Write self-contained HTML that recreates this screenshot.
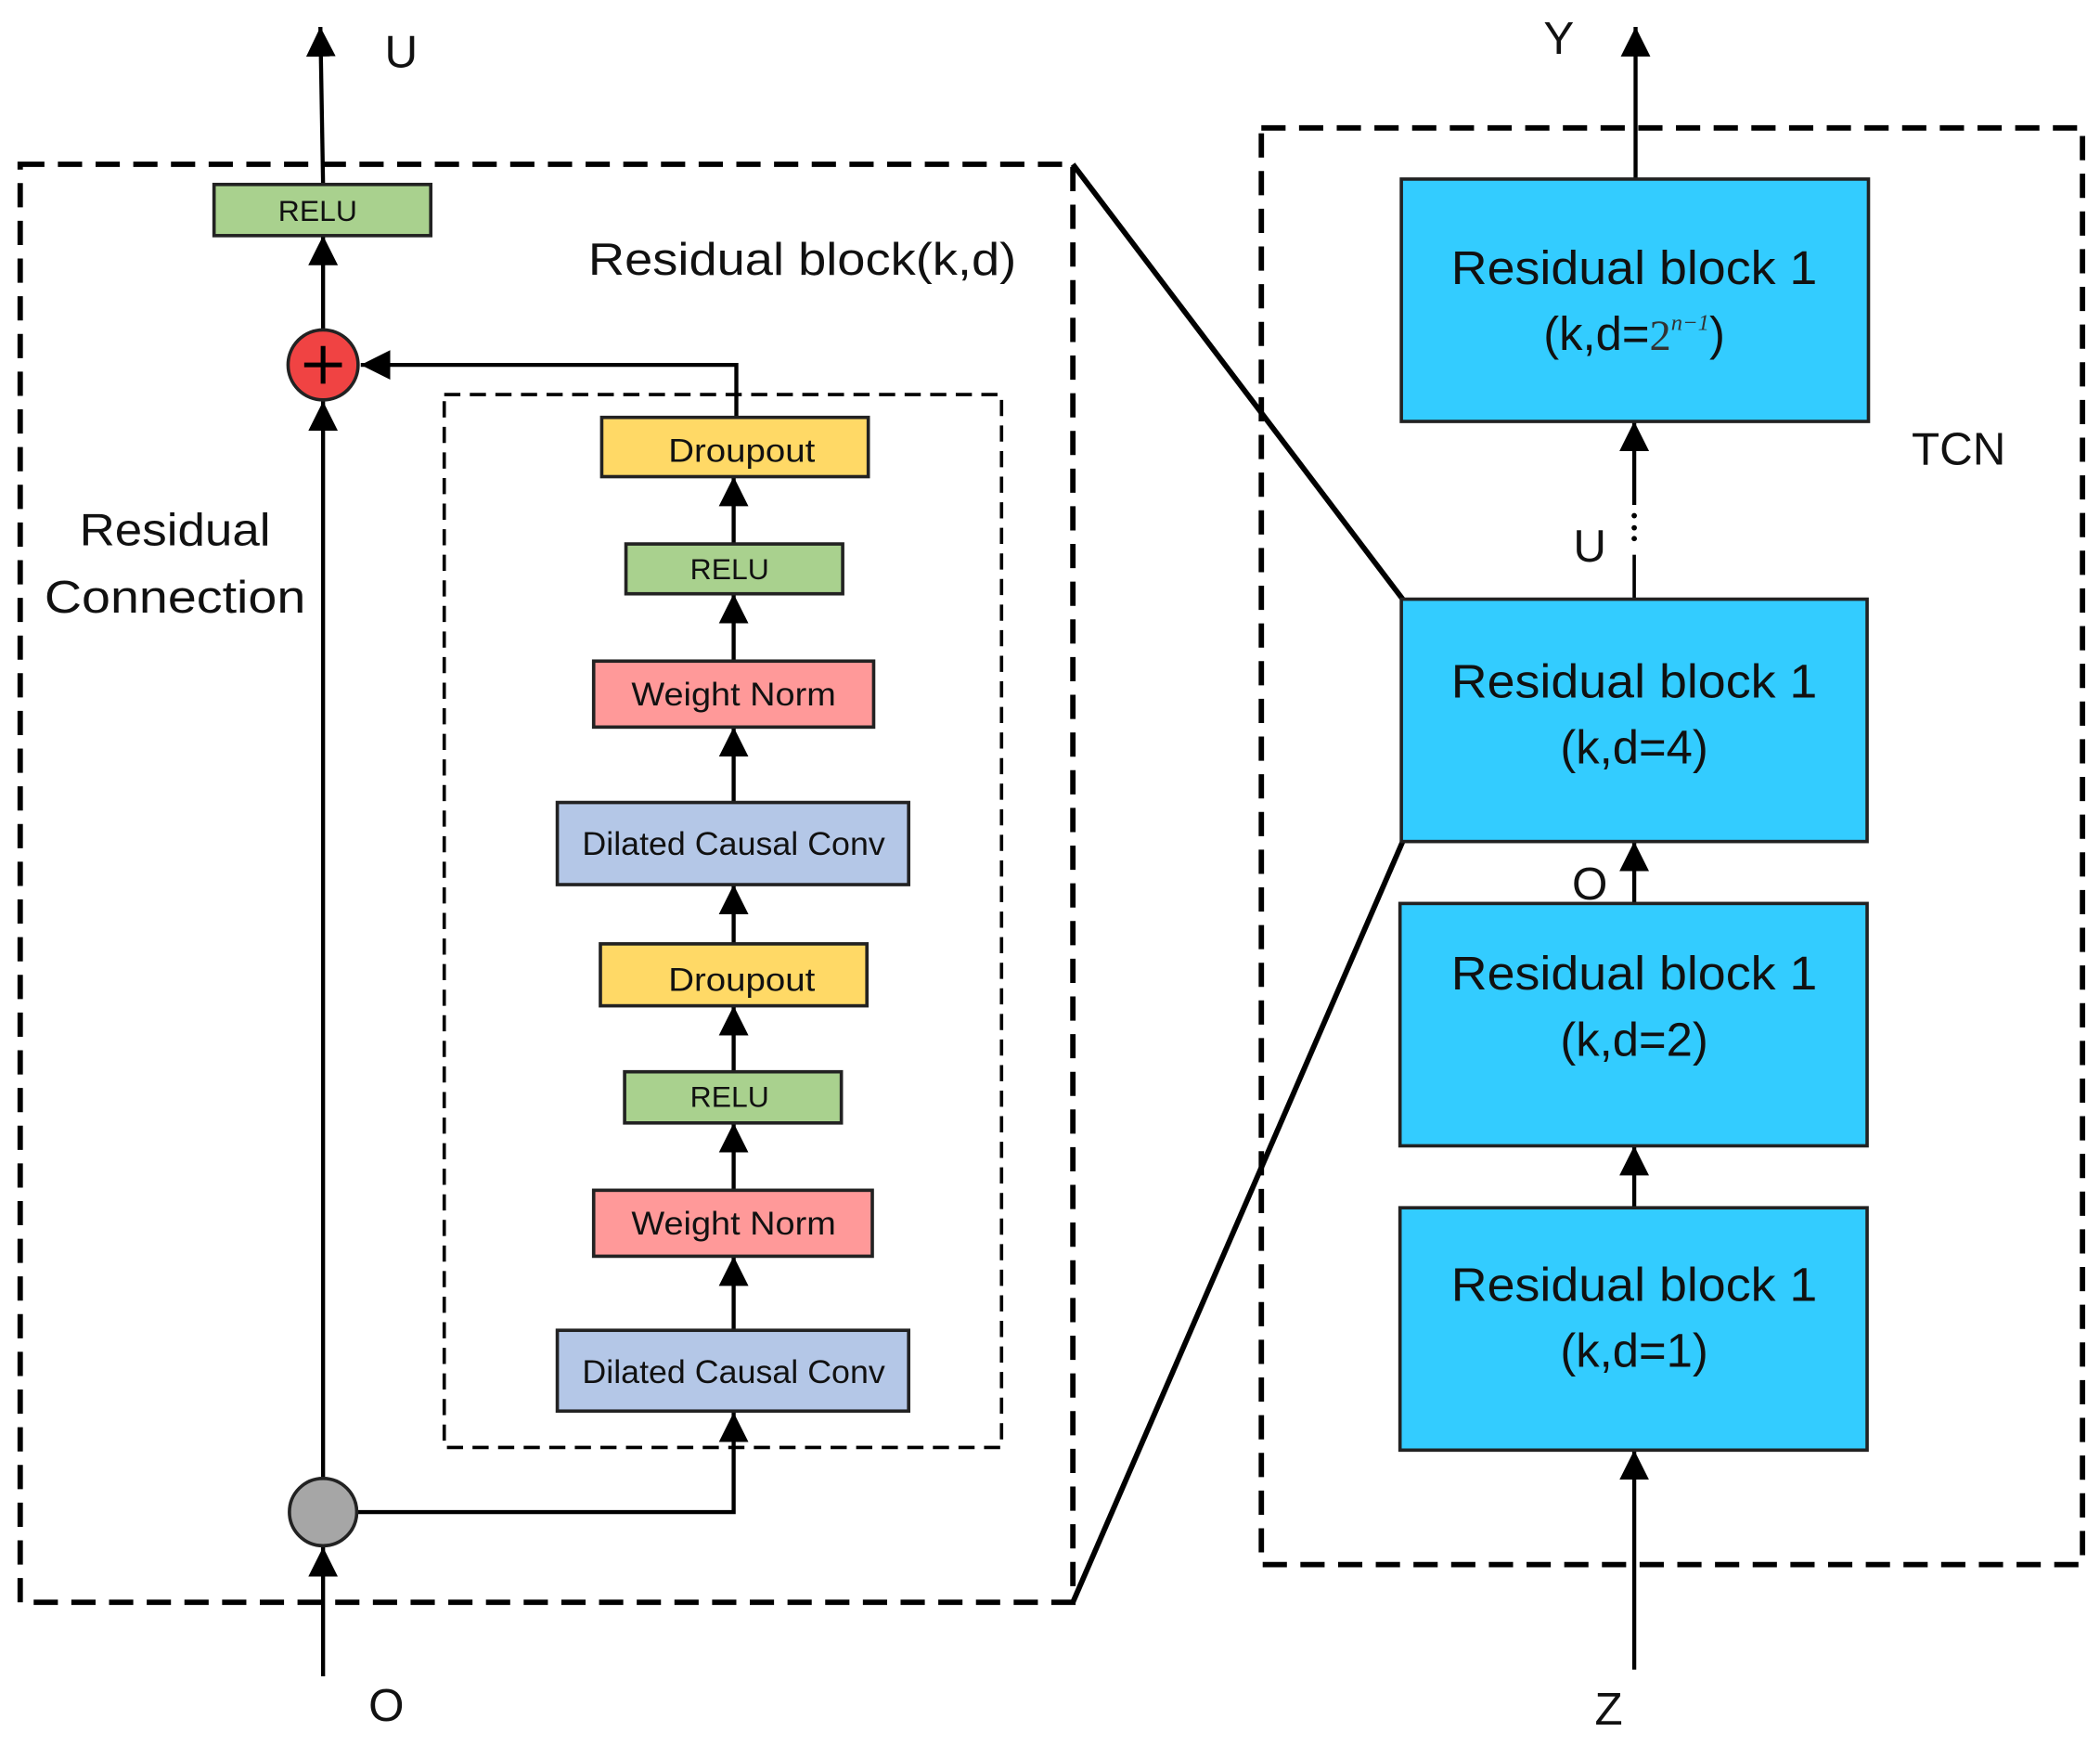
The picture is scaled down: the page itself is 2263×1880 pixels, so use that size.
<!DOCTYPE html>
<html><head><meta charset="utf-8"><style>
html,body{margin:0;padding:0;background:#fff;width:2263px;height:1880px;overflow:hidden}
svg{display:block}
text{font-family:"Liberation Sans",sans-serif;fill:#111}
</style></head><body>
<svg width="2263" height="1880" viewBox="0 0 1560 1296" preserveAspectRatio="none" xmlns="http://www.w3.org/2000/svg">
<defs>
<marker id="b" viewBox="0 0 10 10" refX="10" refY="5" markerWidth="22" markerHeight="22" markerUnits="userSpaceOnUse" orient="auto"><path d="M0,0L10,5L0,10z" fill="#000"/></marker>
</defs>
<g stroke="#000" fill="none">
<rect x="15" y="122" width="782" height="1068" stroke-width="4" stroke-dasharray="18,10"/>
<rect x="330" y="293" width="414" height="782" stroke-width="2.5" stroke-dasharray="12,7"/>
<rect x="937" y="95" width="610" height="1067" stroke-width="4" stroke-dasharray="18,10"/>
<line x1="797" y1="122" x2="1042" y2="445" stroke-width="4"/>
<line x1="797" y1="1190" x2="1042" y2="625" stroke-width="4"/>
<line x1="240" y1="1245" x2="240" y2="1149" stroke-width="3" marker-end="url(#b)"/>
<line x1="240" y1="1097" x2="240" y2="298" stroke-width="3" marker-end="url(#b)"/>
<line x1="240" y1="244" x2="240" y2="175" stroke-width="3" marker-end="url(#b)"/>
<line x1="240" y1="137" x2="238" y2="20" stroke-width="3" marker-end="url(#b)"/>
<polyline points="266,1123 545,1123 545,1049" stroke-width="3" marker-end="url(#b)"/>
<polyline points="547,310 547,271 268,271" stroke-width="3" marker-end="url(#b)"/>
<line x1="545" y1="988" x2="545" y2="933" stroke-width="3" marker-end="url(#b)"/>
<line x1="545" y1="884" x2="545" y2="834" stroke-width="3" marker-end="url(#b)"/>
<line x1="545" y1="796" x2="545" y2="747" stroke-width="3" marker-end="url(#b)"/>
<line x1="545" y1="701" x2="545" y2="657" stroke-width="3" marker-end="url(#b)"/>
<line x1="545" y1="596" x2="545" y2="540" stroke-width="3" marker-end="url(#b)"/>
<line x1="545" y1="491" x2="545" y2="441" stroke-width="3" marker-end="url(#b)"/>
<line x1="545" y1="404" x2="545" y2="354" stroke-width="3" marker-end="url(#b)"/>
<line x1="1215" y1="133" x2="1215" y2="20" stroke-width="3" marker-end="url(#b)"/>
<line x1="1214" y1="445" x2="1214" y2="412" stroke-width="2.5"/>
<line x1="1214" y1="375" x2="1214" y2="313" stroke-width="3" marker-end="url(#b)"/>
<line x1="1214" y1="671" x2="1214" y2="625" stroke-width="3" marker-end="url(#b)"/>
<line x1="1214" y1="897" x2="1214" y2="851" stroke-width="3" marker-end="url(#b)"/>
<line x1="1214" y1="1240" x2="1214" y2="1077" stroke-width="3" marker-end="url(#b)"/>
</g>
<g fill="#000"><circle cx="1214" cy="383" r="2"/><circle cx="1214" cy="392" r="2"/><circle cx="1214" cy="400" r="2"/></g>
<circle cx="240" cy="271" r="26" fill="#f04343" stroke="#222" stroke-width="2.5"/>
<path d="M226,271H254M240,257V285" stroke="#000" stroke-width="3.5"/>
<circle cx="240" cy="1123" r="25" fill="#a6a6a6" stroke="#222" stroke-width="2.5"/>
<g stroke="#222" stroke-width="2.5">
<rect x="159" y="137" width="161" height="38" fill="#a9d18e"/>
<rect x="447" y="310" width="198" height="44" fill="#ffd966"/>
<rect x="465" y="404" width="161" height="37" fill="#a9d18e"/>
<rect x="441" y="491" width="208" height="49" fill="#ff9999"/>
<rect x="414" y="596" width="261" height="61" fill="#b4c7e7"/>
<rect x="446" y="701" width="198" height="46" fill="#ffd966"/>
<rect x="464" y="796" width="161" height="38" fill="#a9d18e"/>
<rect x="441" y="884" width="207" height="49" fill="#ff9999"/>
<rect x="414" y="988" width="261" height="60" fill="#b4c7e7"/>
<rect x="1041" y="133" width="347" height="180" fill="#33ccff"/>
<rect x="1041" y="445" width="346" height="180" fill="#33ccff"/>
<rect x="1040" y="671" width="347" height="180" fill="#33ccff"/>
<rect x="1040" y="897" width="347" height="180" fill="#33ccff"/>
</g>
<g text-anchor="middle" font-size="24">
<text x="236" y="164" font-size="22">RELU</text>
<text x="551" y="343" textLength="109" lengthAdjust="spacingAndGlyphs">Droupout</text>
<text x="542" y="430" font-size="22">RELU</text>
<text x="545" y="524" textLength="152" lengthAdjust="spacingAndGlyphs">Weight Norm</text>
<text x="545" y="635" textLength="225" lengthAdjust="spacingAndGlyphs">Dilated Causal Conv</text>
<text x="551" y="736" textLength="109" lengthAdjust="spacingAndGlyphs">Droupout</text>
<text x="542" y="822" font-size="22">RELU</text>
<text x="545" y="917" textLength="152" lengthAdjust="spacingAndGlyphs">Weight Norm</text>
<text x="545" y="1027" textLength="225" lengthAdjust="spacingAndGlyphs">Dilated Causal Conv</text>
</g>
<g font-size="34">
<text x="437" y="204" textLength="318" lengthAdjust="spacingAndGlyphs">Residual block(k,d)</text>
<text x="130" y="405" text-anchor="middle" textLength="142" lengthAdjust="spacingAndGlyphs">Residual</text>
<text x="130" y="455" text-anchor="middle" textLength="194" lengthAdjust="spacingAndGlyphs">Connection</text>
<text x="298" y="50" text-anchor="middle">U</text>
<text x="287" y="1278" text-anchor="middle">O</text>
<text x="1158" y="40" text-anchor="middle">Y</text>
<text x="1455" y="345" text-anchor="middle">TCN</text>
<text x="1181" y="417" text-anchor="middle">U</text>
<text x="1181" y="668" text-anchor="middle">O</text>
<text x="1195" y="1281" text-anchor="middle">Z</text>
</g>
<g font-size="35" text-anchor="middle">
<text x="1214" y="211" textLength="272" lengthAdjust="spacingAndGlyphs">Residual block 1</text>
<text x="1214" y="260">(k,d=<tspan font-family="Liberation Serif" font-size="32" fill="#333">2</tspan><tspan font-family="Liberation Serif" font-style="italic" font-size="17" dy="-15" fill="#333">n−1</tspan><tspan dy="15">)</tspan></text>
<text x="1214" y="518" textLength="272" lengthAdjust="spacingAndGlyphs">Residual block 1</text>
<text x="1214" y="567">(k,d=4)</text>
<text x="1214" y="735" textLength="272" lengthAdjust="spacingAndGlyphs">Residual block 1</text>
<text x="1214" y="784">(k,d=2)</text>
<text x="1214" y="966" textLength="272" lengthAdjust="spacingAndGlyphs">Residual block 1</text>
<text x="1214" y="1015">(k,d=1)</text>
</g>
</svg>
</body></html>
